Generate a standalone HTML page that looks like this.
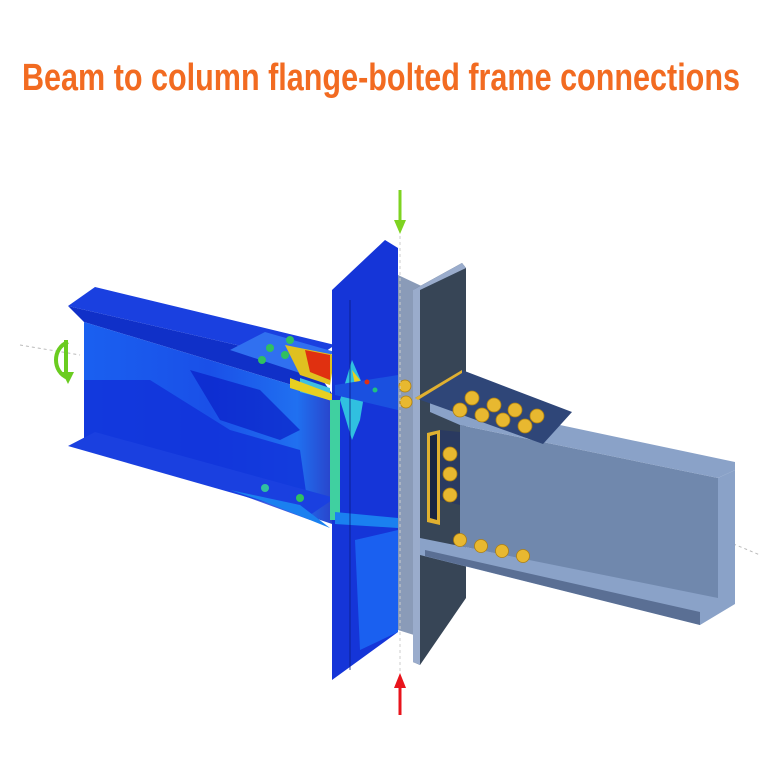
<!DOCTYPE html>
<html><head><style>html,body{margin:0;padding:0;background:#fff}svg{display:block}</style></head>
<body>
<svg width="768" height="768" viewBox="0 0 768 768" xmlns="http://www.w3.org/2000/svg">
<defs>
<linearGradient id="lb" x1="0" y1="0" x2="1" y2="0">
<stop offset="0" stop-color="#1a60f0"/><stop offset="0.5" stop-color="#1a50e8"/><stop offset="0.85" stop-color="#2070f0"/><stop offset="1" stop-color="#2a40c8"/>
</linearGradient>
</defs>
<text x="22" y="90" font-family="Liberation Sans Narrow, Liberation Sans, sans-serif" font-weight="bold" font-size="38" fill="#f26b21" textLength="718" lengthAdjust="spacingAndGlyphs">Beam to column flange-bolted frame connections</text>

<line x1="20" y1="345" x2="80" y2="355" stroke="#bbb" stroke-width="1" stroke-dasharray="3,3"/>
<line x1="700" y1="530" x2="760" y2="555" stroke="#bbb" stroke-width="1" stroke-dasharray="3,3"/>

<!-- left beam -->
<polygon points="68,306 310,362 335,398 84,322" fill="#1030c8"/>
<polygon points="84,322 335,398 335,525 84,440" fill="url(#lb)"/>
<polygon points="84,380 150,380 230,430 300,450 310,520 200,480 84,440" fill="#1030d8" opacity="0.8"/>
<polygon points="190,370 260,390 300,430 280,440 220,420" fill="#0a20c8" opacity="0.7"/>
<polygon points="68,306 95,287 335,345 310,362" fill="#1a40e0"/>
<polygon points="68,446 95,432 335,498 310,515" fill="#1a40e0"/>
<polygon points="230,350 265,332 335,352 300,373" fill="#3070f0"/>
<polygon points="285,345 335,355 330,385 300,375" fill="#e0c020"/>
<polygon points="305,350 330,355 330,380 310,372" fill="#e03010"/>
<polygon points="300,378 330,388 330,400 300,392" fill="#40c0e0"/>
<polygon points="290,378 335,395 335,402 290,388" fill="#e8d020"/>
<circle cx="270" cy="348" r="4" fill="#30c060"/><circle cx="290" cy="340" r="4" fill="#30c060"/><circle cx="262" cy="360" r="4" fill="#30c060"/><circle cx="285" cy="355" r="4" fill="#30c060"/>
<polygon points="230,490 300,505 330,528 260,500" fill="#1a80f0"/>
<circle cx="265" cy="488" r="4" fill="#30c0a0"/><circle cx="300" cy="498" r="4" fill="#30c060"/>

<!-- column left half (stress) -->
<polygon points="332,290 385,240 398,248 398,632 332,680" fill="#1535d8"/>
<polygon points="355,540 398,530 398,632 360,650" fill="#1a60f0"/>
<polygon points="340,400 352,360 365,390 360,420 352,440" fill="#30c0e0"/>
<polygon points="330,400 340,400 340,520 330,520" fill="#40d0a0"/>
<polygon points="352,370 360,380 356,390" fill="#e8d020"/>
<polygon points="335,385 398,375 398,410 335,395" fill="#1a50e0"/>
<circle cx="367" cy="382" r="2.5" fill="#e03010"/><circle cx="375" cy="390" r="2.5" fill="#20c080"/>
<polygon points="335,512 398,518 398,528 335,524" fill="#1a80f0"/>
<line x1="350" y1="300" x2="350" y2="670" stroke="#0a1a80" stroke-width="0.8"/>

<!-- column right (grey) -->
<polygon points="398,275 430,290 430,640 398,630" fill="#8a9bb8"/>
<polygon points="413,290 462,263 466,268 466,598 420,665 413,662" fill="#374556"/>
<polygon points="413,290 420,287 420,665 413,662" fill="#9aaccc"/>
<polygon points="462,263 466,268 420,290 413,290" fill="#9aaccc"/>

<!-- right beam -->
<polygon points="460,425 718,478 718,600 460,546" fill="#7088ad"/>
<polygon points="430,403 560,425 735,462 735,470 718,478 460,425 430,412" fill="#8aa2c8"/>
<polygon points="718,478 735,470 735,600 718,606" fill="#8aa2c8"/>
<polygon points="420,538 718,598 735,592 735,604 700,625 420,555" fill="#8aa2c8"/>
<polygon points="425,550 700,612 700,625 425,556" fill="#5a6f94"/>
<polygon points="440,430 460,432 460,505 440,500" fill="#2a3a60"/>
<polygon points="427,433 440,430 440,525 427,522" fill="#e0b030"/>
<polygon points="430,436 437,434 437,520 430,518" fill="#1a2540"/>
<!-- top plate -->
<polygon points="415,398 462,370 572,412 543,444" fill="#2f4678"/>
<polygon points="415,398 462,370 462,373 418,400" fill="#e0b030"/>
<g fill="#e8b830" stroke="#b08010" stroke-width="0.8">
<circle cx="472" cy="398" r="7"/><circle cx="494" cy="405" r="7"/><circle cx="515" cy="410" r="7"/><circle cx="537" cy="416" r="7"/>
<circle cx="460" cy="410" r="7"/><circle cx="482" cy="415" r="7"/><circle cx="503" cy="420" r="7"/><circle cx="525" cy="426" r="7"/>
<circle cx="405" cy="386" r="6"/><circle cx="406" cy="402" r="6"/>
<circle cx="450" cy="454" r="7"/><circle cx="450" cy="474" r="7"/><circle cx="450" cy="495" r="7"/>
<circle cx="460" cy="540" r="6.5"/><circle cx="481" cy="546" r="6.5"/><circle cx="502" cy="551" r="6.5"/><circle cx="523" cy="556" r="6.5"/>
</g>

<line x1="400" y1="230" x2="400" y2="680" stroke="#ccc" stroke-width="1" stroke-dasharray="3,3"/>
<line x1="400" y1="190" x2="400" y2="222" stroke="#7ed321" stroke-width="3"/>
<polygon points="394,220 406,220 400,234" fill="#7ed321"/>
<line x1="400" y1="686" x2="400" y2="715" stroke="#e8141c" stroke-width="3"/>
<polygon points="394,688 406,688 400,673" fill="#e8141c"/>
<path d="M68,342 C52,348 52,372 68,378" fill="none" stroke="#6acc20" stroke-width="4"/>
<polygon points="62,372 74,372 68,384" fill="#6acc20"/>
<rect x="64" y="340" width="4" height="38" fill="#6acc20"/>
</svg>
</body></html>
